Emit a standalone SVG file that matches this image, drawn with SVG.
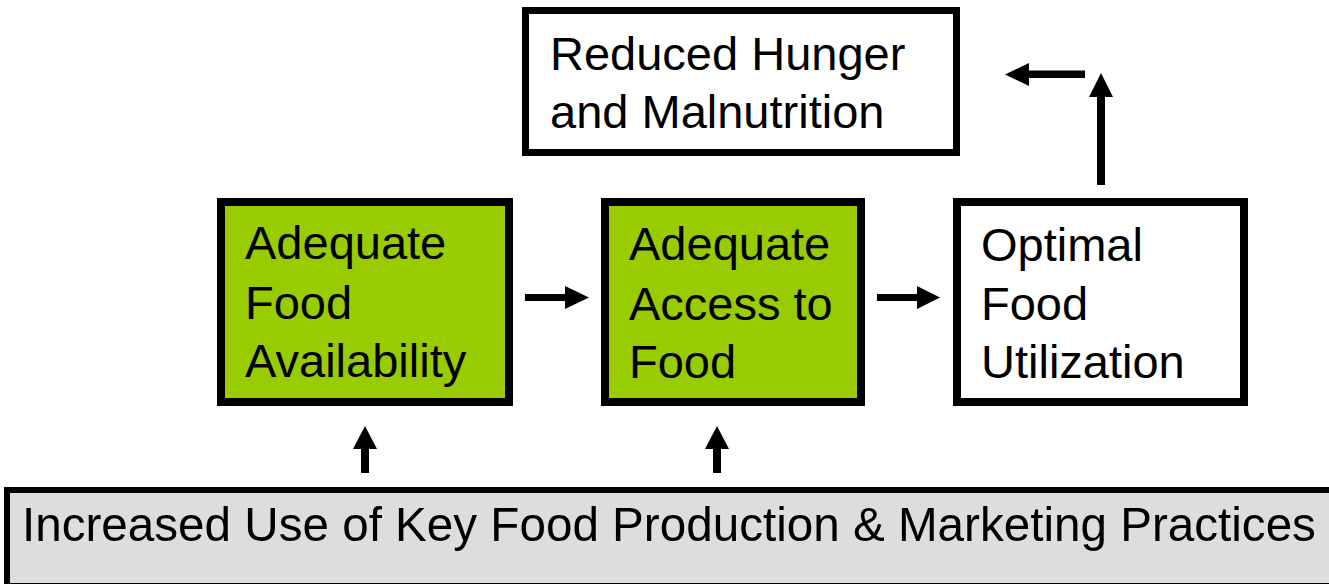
<svg xmlns="http://www.w3.org/2000/svg" width="1329" height="584" viewBox="0 0 1329 584">
<style>
.box{stroke:#000;stroke-width:8}
.green{fill:#99CC00}
.white{fill:#fff}
.lbl{font-family:"Liberation Sans",Arial,sans-serif;font-size:47px;fill:#000}
.arrow{fill:#000}
</style>
<rect width="1329" height="584" fill="#fff"/>
<g id="node-reduced-hunger">
<rect class="box white" x="525.5" y="10.5" width="431" height="142" style="stroke-width:7"/>
<text class="lbl" x="550" y="70">Reduced Hunger</text>
<text class="lbl" x="550" y="128">and Malnutrition</text>
</g>
<g id="node-availability">
<rect class="box green" x="221" y="202" width="288" height="200"/>
<text class="lbl" x="245" y="259">Adequate</text>
<text class="lbl" x="245" y="319">Food</text>
<text class="lbl" x="245" y="377">Availability</text>
</g>
<g id="node-access">
<rect class="box green" x="605" y="202" width="256" height="200"/>
<text class="lbl" x="629" y="260">Adequate</text>
<text class="lbl" x="629" y="320">Access to</text>
<text class="lbl" x="629" y="378">Food</text>
</g>
<g id="node-utilization">
<rect class="box white" x="957" y="202" width="287" height="200"/>
<text class="lbl" x="981" y="261">Optimal</text>
<text class="lbl" x="981" y="320">Food</text>
<text class="lbl" x="981" y="378">Utilization</text>
</g>
<g id="node-practices">
<rect x="7" y="490" width="1340" height="96" fill="#DDDDDD" stroke="#000" stroke-width="6"/>
<text transform="translate(22,541) scale(0.972,1)" x="0" y="0" font-family="'Liberation Sans',Arial,sans-serif" font-size="49" fill="#000">Increased Use of Key Food Production &amp; Marketing Practices</text>
</g>
<g id="connectors">
<polygon class="arrow" points="525,294 565,294 565,286 589,297.5 565,309 565,301 525,301"/>
<polygon class="arrow" points="877,294 917,294 917,286 940,297.5 917,309 917,301 877,301"/>
<polygon class="arrow" points="1097,185 1097,97 1089,97 1101,73 1113,97 1105,97 1105,185"/>
<polygon class="arrow" points="1085,70.5 1029,70.5 1029,63 1005,74.5 1029,86 1029,78 1085,78"/>
<polygon class="arrow" points="361,473 361,449 353,449 365,426 377,449 369,449 369,473"/>
<polygon class="arrow" points="713,473 713,449 705,449 717,426 729,449 721,449 721,473"/>
</g>
</svg>
